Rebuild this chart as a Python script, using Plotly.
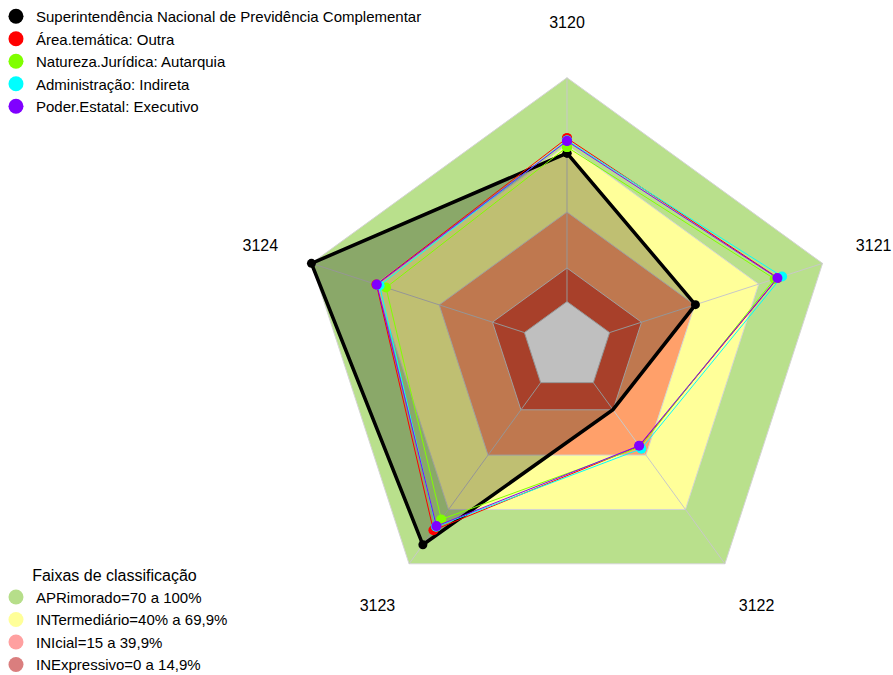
import plotly.graph_objects as go

# ---- data ----
categories = ["3120", "3121", "3122", "3123", "3124"]

series_names = [
    "Superintendência Nacional de Previdência Complementar",
    "Área.temática: Outra",
    "Natureza.Jurídica: Autarquia",
    "Administração: Indireta",
    "Poder.Estatal: Executivo",
]
sup_values = [66.3, 40.3, 14.9, 89.5, 100.0]
area_values = [73.0, 79.0, 35.0, 81.5, 69.5]
natureza_values = [69.0, 77.5, 35.5, 75.5, 65.0]
admin_values = [72.0, 81.0, 36.5, 79.5, 68.0]
poder_values = [71.7, 78.8, 34.8, 79.2, 69.3]
series_values = [sup_values, area_values, natureza_values, admin_values, poder_values]
series_colors = ["#000000", "#FF0000", "#80FF00", "#00FFFF", "#8000FF"]

band_names = [
    "APRimorado=70 a 100%",
    "INTermediário=40% a 69,9%",
    "INIcial=15 a 39,9%",
    "INExpressivo=0 a 14,9%",
]
band_upper = [100, 70, 40, 15]
band_fill = ["#B9E08C", "#FFFF99", "#FFA06A", "#E05638"]
band_legend_colors = ["#B6DE8A", "#FFFF99", "#FFA0A0", "#DA7E7E"]
legend_title = "Faixas de classificação"

FONT = "Liberation Sans, Arial, sans-serif"
LABEL_R = 124  # radial position of the category labels (1.2 x outer radius)

theta_closed = categories + [categories[0]]


def closed(vals):
    return list(vals) + [vals[0]]


fig = go.Figure()

# classification bands (filled pentagons, largest first)
for up, col in zip(band_upper, band_fill):
    fig.add_trace(go.Scatterpolar(
        r=closed([up] * len(categories)), theta=theta_closed,
        mode="lines", fill="toself", fillcolor=col,
        line=dict(color="#D4D4D4", width=1),
        showlegend=False, hoverinfo="skip"))
# centre (value 0)
fig.add_trace(go.Scatterpolar(
    r=closed([0] * len(categories)), theta=theta_closed,
    mode="lines", fill="toself", fillcolor="#FFFFFF",
    line=dict(color="#C8C8C8", width=1),
    showlegend=False, hoverinfo="skip"))

# spokes
spoke_r, spoke_t = [], []
for c in categories:
    spoke_r += [0, 100, None]
    spoke_t += [c, c, None]
fig.add_trace(go.Scatterpolar(
    r=spoke_r, theta=spoke_t, mode="lines",
    line=dict(color="#C8C8C8", width=1),
    showlegend=False, hoverinfo="skip"))

# data series
for i, (name, vals, col) in enumerate(zip(series_names, series_values, series_colors)):
    if i == 0:
        fig.add_trace(go.Scatterpolar(
            r=closed(vals), theta=theta_closed, name=name,
            mode="lines+markers", fill="toself",
            fillcolor="rgba(0,0,0,0.25)",
            line=dict(color=col, width=3.5),
            marker=dict(color=col, size=9),
            showlegend=False))
    else:
        fig.add_trace(go.Scatterpolar(
            r=closed(vals), theta=theta_closed, name=name,
            mode="lines+markers",
            line=dict(color=col, width=1),
            marker=dict(color=col, size=10),
            showlegend=False))

# category labels
fig.add_trace(go.Scatterpolar(
    r=[LABEL_R] * len(categories), theta=categories, text=categories,
    mode="text", textposition="middle center", cliponaxis=False,
    textfont=dict(family=FONT, size=16, color="#000000"),
    showlegend=False, hoverinfo="skip"))

# legend entries (series)
for name, col in zip(series_names, series_colors):
    fig.add_trace(go.Scatterpolar(
        r=[None], theta=[categories[0]], name=name, mode="markers",
        marker=dict(color=col, size=15), legend="legend"))

# legend entries (bands)
for name, col in zip(band_names, band_legend_colors):
    fig.add_trace(go.Scatterpolar(
        r=[None], theta=[categories[0]], name=name, mode="markers",
        marker=dict(color=col, size=15), legend="legend2"))

W, H = 893, 675
fig.update_layout(
    width=W, height=H,
    margin=dict(l=0, r=0, t=0, b=0, autoexpand=False),
    paper_bgcolor="white",
    font=dict(family=FONT, size=16, color="#000000"),
    polar=dict(
        domain=dict(x=[0.27134, 0.99854], y=[0.00578, 0.96785]),
        bgcolor="rgba(0,0,0,0)",
        gridshape="linear",
        radialaxis=dict(range=[-20, 125], visible=False, showgrid=False),
        angularaxis=dict(
            rotation=90, direction="clockwise",
            showgrid=False, showline=False, ticks="",
            showticklabels=False,
        ),
    ),
    legend=dict(
        x=-0.0045, y=1.0, xanchor="left", yanchor="top",
        bgcolor="rgba(0,0,0,0)", font=dict(family=FONT, size=15),
        itemsizing="trace", tracegroupgap=0,
    ),
    legend2=dict(
        x=-0.0045, y=-0.0089, xanchor="left", yanchor="bottom",
        bgcolor="rgba(0,0,0,0)", font=dict(family=FONT, size=15),
        itemsizing="trace", tracegroupgap=0,
        title=dict(text=legend_title, side="top center",
                   font=dict(family=FONT, size=16)),
    ),
)

fig.write_html(
    "out.html",
    config={"displayModeBar": False},
    post_script="document.body.style.margin='0px';document.body.style.overflow='hidden';",
)
